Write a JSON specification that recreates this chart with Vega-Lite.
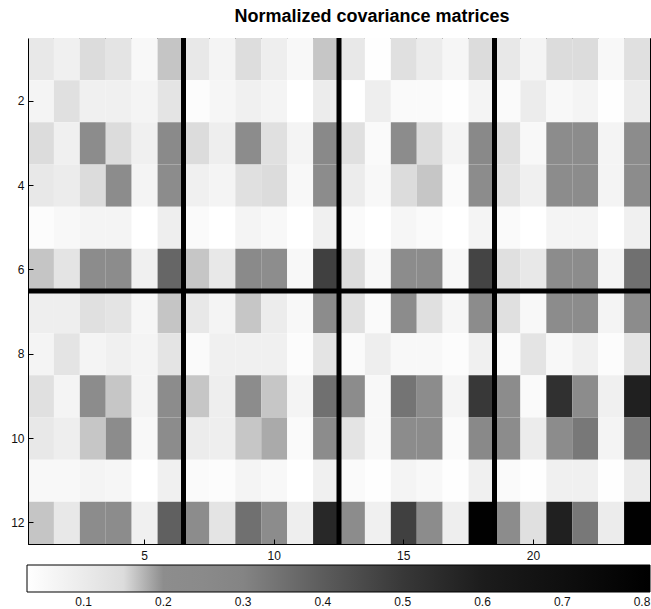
{
  "$schema": "https://vega.github.io/schema/vega-lite/v6.json",
  "autosize": "none",
  "padding": {"left": 28, "top": 38, "right": 1, "bottom": 65},
  "width": 622,
  "height": 506,
  "background": "white",
  "title": {"text": "Normalized covariance matrices", "font": "Liberation Sans", "fontSize": 18, "fontWeight": "bold", "color": "black", "dx": 33, "offset": 10},
  "config": {
    "view": {"stroke": "black", "strokeWidth": 1},
    "axis": {"labelFont": "Liberation Sans", "labelFontSize": 12, "labelColor": "#111", "domainColor": "black", "tickColor": "black", "grid": false, "title": null}
  },
  "datasets": {
    "cells": [
      {"r":1,"c":1,"v":0.11},{"r":1,"c":2,"v":0.082},{"r":1,"c":3,"v":0.15},{"r":1,"c":4,"v":0.123},{"r":1,"c":5,"v":0.054},{"r":1,"c":6,"v":0.16},{"r":1,"c":7,"v":0.11},{"r":1,"c":8,"v":0.068},{"r":1,"c":9,"v":0.147},{"r":1,"c":10,"v":0.089},{"r":1,"c":11,"v":0.054},{"r":1,"c":12,"v":0.158},{"r":1,"c":13,"v":0.11},{"r":1,"c":14,"v":0.033},{"r":1,"c":15,"v":0.137},{"r":1,"c":16,"v":0.096},{"r":1,"c":17,"v":0.061},{"r":1,"c":18,"v":0.15},{"r":1,"c":19,"v":0.11},{"r":1,"c":20,"v":0.068},{"r":1,"c":21,"v":0.15},{"r":1,"c":22,"v":0.15},{"r":1,"c":23,"v":0.054},{"r":1,"c":24,"v":0.137},
      {"r":2,"c":1,"v":0.068},{"r":2,"c":2,"v":0.137},{"r":2,"c":3,"v":0.082},{"r":2,"c":4,"v":0.082},{"r":2,"c":5,"v":0.068},{"r":2,"c":6,"v":0.123},{"r":2,"c":7,"v":0.04},{"r":2,"c":8,"v":0.061},{"r":2,"c":9,"v":0.082},{"r":2,"c":10,"v":0.068},{"r":2,"c":11,"v":0.03},{"r":2,"c":12,"v":0.096},{"r":2,"c":13,"v":0.03},{"r":2,"c":14,"v":0.089},{"r":2,"c":15,"v":0.047},{"r":2,"c":16,"v":0.047},{"r":2,"c":17,"v":0.033},{"r":2,"c":18,"v":0.068},{"r":2,"c":19,"v":0.047},{"r":2,"c":20,"v":0.096},{"r":2,"c":21,"v":0.054},{"r":2,"c":22,"v":0.068},{"r":2,"c":23,"v":0.033},{"r":2,"c":24,"v":0.096},
      {"r":3,"c":1,"v":0.15},{"r":3,"c":2,"v":0.082},{"r":3,"c":3,"v":0.21},{"r":3,"c":4,"v":0.15},{"r":3,"c":5,"v":0.082},{"r":3,"c":6,"v":0.25},{"r":3,"c":7,"v":0.15},{"r":3,"c":8,"v":0.089},{"r":3,"c":9,"v":0.21},{"r":3,"c":10,"v":0.137},{"r":3,"c":11,"v":0.068},{"r":3,"c":12,"v":0.27},{"r":3,"c":13,"v":0.137},{"r":3,"c":14,"v":0.047},{"r":3,"c":15,"v":0.21},{"r":3,"c":16,"v":0.15},{"r":3,"c":17,"v":0.068},{"r":3,"c":18,"v":0.27},{"r":3,"c":19,"v":0.137},{"r":3,"c":20,"v":0.054},{"r":3,"c":21,"v":0.22},{"r":3,"c":22,"v":0.22},{"r":3,"c":23,"v":0.068},{"r":3,"c":24,"v":0.22},
      {"r":4,"c":1,"v":0.11},{"r":4,"c":2,"v":0.096},{"r":4,"c":3,"v":0.15},{"r":4,"c":4,"v":0.21},{"r":4,"c":5,"v":0.068},{"r":4,"c":6,"v":0.21},{"r":4,"c":7,"v":0.082},{"r":4,"c":8,"v":0.068},{"r":4,"c":9,"v":0.137},{"r":4,"c":10,"v":0.15},{"r":4,"c":11,"v":0.054},{"r":4,"c":12,"v":0.22},{"r":4,"c":13,"v":0.096},{"r":4,"c":14,"v":0.054},{"r":4,"c":15,"v":0.15},{"r":4,"c":16,"v":0.158},{"r":4,"c":17,"v":0.047},{"r":4,"c":18,"v":0.22},{"r":4,"c":19,"v":0.123},{"r":4,"c":20,"v":0.082},{"r":4,"c":21,"v":0.22},{"r":4,"c":22,"v":0.22},{"r":4,"c":23,"v":0.068},{"r":4,"c":24,"v":0.22},
      {"r":5,"c":1,"v":0.04},{"r":5,"c":2,"v":0.054},{"r":5,"c":3,"v":0.068},{"r":5,"c":4,"v":0.068},{"r":5,"c":5,"v":0.03},{"r":5,"c":6,"v":0.089},{"r":5,"c":7,"v":0.047},{"r":5,"c":8,"v":0.03},{"r":5,"c":9,"v":0.068},{"r":5,"c":10,"v":0.054},{"r":5,"c":11,"v":0.03},{"r":5,"c":12,"v":0.082},{"r":5,"c":13,"v":0.047},{"r":5,"c":14,"v":0.03},{"r":5,"c":15,"v":0.061},{"r":5,"c":16,"v":0.047},{"r":5,"c":17,"v":0.03},{"r":5,"c":18,"v":0.068},{"r":5,"c":19,"v":0.047},{"r":5,"c":20,"v":0.03},{"r":5,"c":21,"v":0.068},{"r":5,"c":22,"v":0.068},{"r":5,"c":23,"v":0.03},{"r":5,"c":24,"v":0.082},
      {"r":6,"c":1,"v":0.16},{"r":6,"c":2,"v":0.123},{"r":6,"c":3,"v":0.21},{"r":6,"c":4,"v":0.22},{"r":6,"c":5,"v":0.082},{"r":6,"c":6,"v":0.375},{"r":6,"c":7,"v":0.158},{"r":6,"c":8,"v":0.11},{"r":6,"c":9,"v":0.25},{"r":6,"c":10,"v":0.19},{"r":6,"c":11,"v":0.054},{"r":6,"c":12,"v":0.478},{"r":6,"c":13,"v":0.15},{"r":6,"c":14,"v":0.054},{"r":6,"c":15,"v":0.22},{"r":6,"c":16,"v":0.22},{"r":6,"c":17,"v":0.054},{"r":6,"c":18,"v":0.467},{"r":6,"c":19,"v":0.137},{"r":6,"c":20,"v":0.11},{"r":6,"c":21,"v":0.22},{"r":6,"c":22,"v":0.22},{"r":6,"c":23,"v":0.068},{"r":6,"c":24,"v":0.35},
      {"r":7,"c":1,"v":0.089},{"r":7,"c":2,"v":0.089},{"r":7,"c":3,"v":0.137},{"r":7,"c":4,"v":0.123},{"r":7,"c":5,"v":0.061},{"r":7,"c":6,"v":0.16},{"r":7,"c":7,"v":0.11},{"r":7,"c":8,"v":0.068},{"r":7,"c":9,"v":0.158},{"r":7,"c":10,"v":0.096},{"r":7,"c":11,"v":0.054},{"r":7,"c":12,"v":0.21},{"r":7,"c":13,"v":0.137},{"r":7,"c":14,"v":0.047},{"r":7,"c":15,"v":0.21},{"r":7,"c":16,"v":0.137},{"r":7,"c":17,"v":0.061},{"r":7,"c":18,"v":0.21},{"r":7,"c":19,"v":0.137},{"r":7,"c":20,"v":0.054},{"r":7,"c":21,"v":0.21},{"r":7,"c":22,"v":0.21},{"r":7,"c":23,"v":0.068},{"r":7,"c":24,"v":0.21},
      {"r":8,"c":1,"v":0.068},{"r":8,"c":2,"v":0.123},{"r":8,"c":3,"v":0.068},{"r":8,"c":4,"v":0.082},{"r":8,"c":5,"v":0.068},{"r":8,"c":6,"v":0.123},{"r":8,"c":7,"v":0.047},{"r":8,"c":8,"v":0.082},{"r":8,"c":9,"v":0.082},{"r":8,"c":10,"v":0.082},{"r":8,"c":11,"v":0.04},{"r":8,"c":12,"v":0.123},{"r":8,"c":13,"v":0.047},{"r":8,"c":14,"v":0.089},{"r":8,"c":15,"v":0.054},{"r":8,"c":16,"v":0.054},{"r":8,"c":17,"v":0.04},{"r":8,"c":18,"v":0.082},{"r":8,"c":19,"v":0.047},{"r":8,"c":20,"v":0.123},{"r":8,"c":21,"v":0.054},{"r":8,"c":22,"v":0.082},{"r":8,"c":23,"v":0.04},{"r":8,"c":24,"v":0.123},
      {"r":9,"c":1,"v":0.137},{"r":9,"c":2,"v":0.068},{"r":9,"c":3,"v":0.21},{"r":9,"c":4,"v":0.158},{"r":9,"c":5,"v":0.068},{"r":9,"c":6,"v":0.22},{"r":9,"c":7,"v":0.158},{"r":9,"c":8,"v":0.089},{"r":9,"c":9,"v":0.21},{"r":9,"c":10,"v":0.158},{"r":9,"c":11,"v":0.068},{"r":9,"c":12,"v":0.35},{"r":9,"c":13,"v":0.22},{"r":9,"c":14,"v":0.054},{"r":9,"c":15,"v":0.34},{"r":9,"c":16,"v":0.22},{"r":9,"c":17,"v":0.068},{"r":9,"c":18,"v":0.5},{"r":9,"c":19,"v":0.22},{"r":9,"c":20,"v":0.047},{"r":9,"c":21,"v":0.529},{"r":9,"c":22,"v":0.22},{"r":9,"c":23,"v":0.082},{"r":9,"c":24,"v":0.586},
      {"r":10,"c":1,"v":0.11},{"r":10,"c":2,"v":0.089},{"r":10,"c":3,"v":0.158},{"r":10,"c":4,"v":0.21},{"r":10,"c":5,"v":0.054},{"r":10,"c":6,"v":0.22},{"r":10,"c":7,"v":0.096},{"r":10,"c":8,"v":0.089},{"r":10,"c":9,"v":0.158},{"r":10,"c":10,"v":0.17},{"r":10,"c":11,"v":0.047},{"r":10,"c":12,"v":0.22},{"r":10,"c":13,"v":0.123},{"r":10,"c":14,"v":0.054},{"r":10,"c":15,"v":0.22},{"r":10,"c":16,"v":0.22},{"r":10,"c":17,"v":0.047},{"r":10,"c":18,"v":0.27},{"r":10,"c":19,"v":0.22},{"r":10,"c":20,"v":0.096},{"r":10,"c":21,"v":0.22},{"r":10,"c":22,"v":0.33},{"r":10,"c":23,"v":0.068},{"r":10,"c":24,"v":0.33},
      {"r":11,"c":1,"v":0.054},{"r":11,"c":2,"v":0.054},{"r":11,"c":3,"v":0.068},{"r":11,"c":4,"v":0.061},{"r":11,"c":5,"v":0.03},{"r":11,"c":6,"v":0.082},{"r":11,"c":7,"v":0.047},{"r":11,"c":8,"v":0.04},{"r":11,"c":9,"v":0.068},{"r":11,"c":10,"v":0.054},{"r":11,"c":11,"v":0.03},{"r":11,"c":12,"v":0.082},{"r":11,"c":13,"v":0.047},{"r":11,"c":14,"v":0.033},{"r":11,"c":15,"v":0.068},{"r":11,"c":16,"v":0.054},{"r":11,"c":17,"v":0.033},{"r":11,"c":18,"v":0.082},{"r":11,"c":19,"v":0.047},{"r":11,"c":20,"v":0.033},{"r":11,"c":21,"v":0.082},{"r":11,"c":22,"v":0.082},{"r":11,"c":23,"v":0.033},{"r":11,"c":24,"v":0.096},
      {"r":12,"c":1,"v":0.16},{"r":12,"c":2,"v":0.11},{"r":12,"c":3,"v":0.22},{"r":12,"c":4,"v":0.22},{"r":12,"c":5,"v":0.082},{"r":12,"c":6,"v":0.39},{"r":12,"c":7,"v":0.22},{"r":12,"c":8,"v":0.123},{"r":12,"c":9,"v":0.35},{"r":12,"c":10,"v":0.22},{"r":12,"c":11,"v":0.089},{"r":12,"c":12,"v":0.557},{"r":12,"c":13,"v":0.22},{"r":12,"c":14,"v":0.082},{"r":12,"c":15,"v":0.478},{"r":12,"c":16,"v":0.22},{"r":12,"c":17,"v":0.089},{"r":12,"c":18,"v":0.8},{"r":12,"c":19,"v":0.22},{"r":12,"c":20,"v":0.137},{"r":12,"c":21,"v":0.586},{"r":12,"c":22,"v":0.33},{"r":12,"c":23,"v":0.096},{"r":12,"c":24,"v":0.8}
    ],
    "vlines": [{"c": 6}, {"c": 12}, {"c": 18}],
    "hlines": [{"r": 6}]
  },
  "layer": [
    {
      "data": {"name": "cells"},
      "mark": {"type": "rect", "strokeWidth": 0},
      "encoding": {
        "x": {"field": "c", "type": "ordinal", "scale": {"domain": [1,2,3,4,5,6,7,8,9,10,11,12,13,14,15,16,17,18,19,20,21,22,23,24], "paddingInner": 0, "paddingOuter": 0}, "axis": {"orient": "bottom", "values": [5,10,15,20], "labelAngle": 0, "tickSize": -5, "labelPadding": 11, "domain": true}},
        "y": {"field": "r", "type": "ordinal", "scale": {"domain": [1,2,3,4,5,6,7,8,9,10,11,12], "paddingInner": 0, "paddingOuter": 0}, "axis": {"orient": "left", "values": [2,4,6,8,10,12], "tickSize": -5, "labelPadding": 9}},
        "color": {
          "field": "v", "type": "quantitative",
          "scale": {
            "domain": [0.029, 0.1, 0.15, 0.1505, 0.164, 0.1645, 0.176, 0.1765, 0.29, 0.4, 0.5, 0.6, 0.7, 0.81],
            "range": ["#ffffff", "#ebebeb", "#dcdcdc", "#c8c8c8", "#c4c4c4", "#acacac", "#a8a8a8", "#8e8e8e", "#888888", "#5c5c5c", "#383838", "#1c1c1c", "#0f0f0f", "#000000"],
            "interpolate": "rgb"
          },
          "legend": {
            "orient": "none", "direction": "horizontal", "legendX": -1, "legendY": 527,
            "gradientLength": 623, "gradientThickness": 27, "title": null,
            "values": [0.1, 0.2, 0.3, 0.4, 0.5, 0.6, 0.7, 0.8], "format": ".1f",
            "labelFont": "Liberation Sans", "labelFontSize": 12, "labelColor": "#111",
            "gradientStrokeColor": "black", "gradientStrokeWidth": 1, "labelOffset": 5
          }
        }
      }
    },
    {
      "data": {"name": "vlines"},
      "mark": {"type": "rule", "color": "black", "strokeWidth": 5},
      "encoding": {
        "x": {"field": "c", "type": "ordinal", "bandPosition": 1, "axis": {"orient": "top", "values": [5,10,15,20], "labels": false, "tickSize": -5, "domain": false}}
      }
    },
    {
      "data": {"name": "hlines"},
      "mark": {"type": "rule", "color": "black", "strokeWidth": 5},
      "encoding": {
        "y": {"field": "r", "type": "ordinal", "bandPosition": 1, "axis": {"orient": "right", "values": [2,4,6,8,10,12], "labels": false, "tickSize": -5, "domain": false}}
      }
    }
  ]
}
